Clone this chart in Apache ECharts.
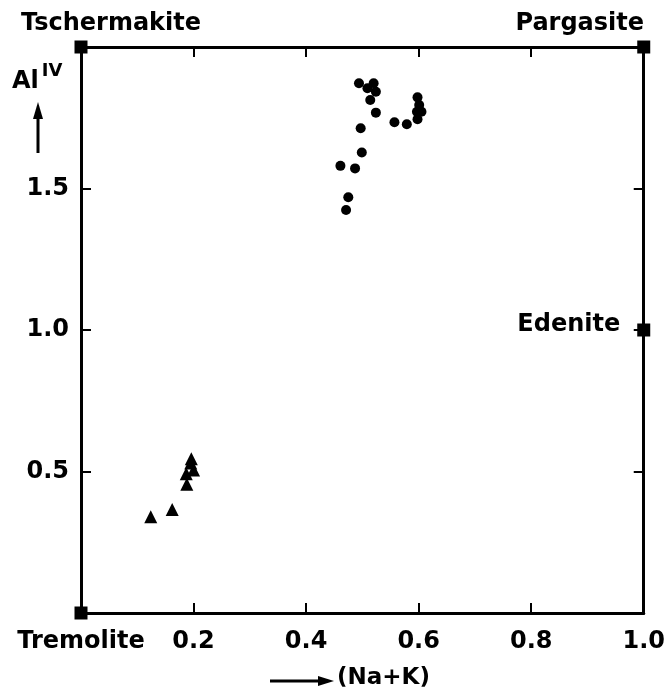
<!DOCTYPE html>
<html>
<head>
<meta charset="utf-8">
<script src="https://cdn.jsdelivr.net/npm/echarts@6/dist/echarts.min.js"></script>
<style>
  html, body { margin: 0; padding: 0; background: #fff; }
  #chart { width: 668px; height: 695px; }
</style>
</head>
<body>
<div id="chart"></div>
<script>
// end members (corners of the diagram)
const endNames = ["Tremolite", "Tschermakite", "Pargasite", "Edenite"];
const endX = [0, 0, 1.0, 1.0];
const endY = [0, 2.0, 2.0, 1.0];

// circles
const circleX = [0.494, 0.509, 0.520, 0.524, 0.514, 0.524, 0.497, 0.557, 0.579, 0.598,
  0.601, 0.597, 0.605, 0.598, 0.499, 0.461, 0.487, 0.475, 0.471];
const circleY = [1.872, 1.854, 1.872, 1.842, 1.813, 1.768, 1.713, 1.734, 1.727, 1.822,
  1.795, 1.771, 1.771, 1.745, 1.627, 1.580, 1.571, 1.469, 1.424];

// triangles
const triX = [0.124, 0.162, 0.188, 0.187, 0.200, 0.195, 0.196];
const triY = [0.340, 0.366, 0.455, 0.492, 0.505, 0.530, 0.545];

const xTicks = [0, 0.2, 0.4, 0.6, 0.8, 1.0];
const yTicks = [0, 0.5, 1.0, 1.5, 2.0];

const FONT = "DejaVu Sans";
const black = "#000";

let chart = echarts.init(document.getElementById("chart"), null, { renderer: "canvas" });

const zip = (xs, ys) => xs.map((x, i) => [x, ys[i]]);

// label placement of end members
const endLabels = {
  Tremolite: { show: false },
  Tschermakite: { show: true, position: "top", offset: [30, 0] },
  Pargasite: { show: true, position: "top", offset: [-64, 0] },
  Edenite: { show: true, position: "left", distance: 17, offset: [0, -5] },
};

const axisCommon = {
  type: "value",
  axisLine: { show: true, onZero: false, lineStyle: { color: black, width: 3 } },
  axisTick: { show: true, inside: true, length: 10, lineStyle: { color: black, width: 2 } },
  splitLine: { show: false },
};

const textStyle = { color: black, fontFamily: FONT, fontSize: 24, fontWeight: "bold" };

chart.setOption({
  backgroundColor: "#fff",
  animation: false,
  grid: { left: 81, right: 16, top: 47, bottom: 82 },
  xAxis: [
    Object.assign({}, axisCommon, {
      position: "bottom",
      min: xTicks[0], max: xTicks[xTicks.length - 1], interval: 0.2,
      axisLabel: Object.assign({
        margin: 17,
        formatter: (v) => (v === 0 ? endNames[0] : v.toFixed(1)),
      }, textStyle),
    }),
    Object.assign({}, axisCommon, {
      position: "top",
      min: xTicks[0], max: xTicks[xTicks.length - 1], interval: 0.2,
      axisLabel: { show: false },
    }),
  ],
  yAxis: [
    Object.assign({}, axisCommon, {
      position: "left",
      min: yTicks[0], max: yTicks[yTicks.length - 1], interval: 0.5,
      axisLabel: Object.assign({
        margin: 12,
        formatter: (v) => (v === 0 || v === 2 ? "" : v.toFixed(1)),
      }, textStyle),
    }),
    Object.assign({}, axisCommon, {
      position: "right",
      min: yTicks[0], max: yTicks[yTicks.length - 1], interval: 0.5,
      axisLabel: { show: false },
    }),
  ],
  graphic: [
    // Al^IV with upward arrow
    {
      type: "text", left: 12, top: 62,
      style: {
        text: "{a|Al}{s|IV}",
        rich: {
          a: { fontFamily: FONT, fontSize: 24, fontWeight: "bold", fill: black, verticalAlign: "bottom", lineHeight: 32 },
          s: { fontFamily: FONT, fontSize: 18, fill: black, fontWeight: "bold", verticalAlign: "top", padding: [0, 0, 14, 3] },
        },
      },
    },
    { type: "line", shape: { x1: 38, y1: 153, x2: 38, y2: 116 }, style: { stroke: black, lineWidth: 3 } },
    { type: "polygon", shape: { points: [[38, 102], [33, 119], [43, 119]] }, style: { fill: black } },
    // (Na+K) with right arrow
    { type: "line", shape: { x1: 270, y1: 681, x2: 320, y2: 681 }, style: { stroke: black, lineWidth: 3 } },
    { type: "polygon", shape: { points: [[334, 681], [318, 676], [318, 686]] }, style: { fill: black } },
    {
      type: "text", left: 337, top: 667,
      style: { text: "(Na+K)", fontFamily: FONT, fontSize: 23, fontWeight: "bold", fill: black },
    },
  ],
  series: [
    {
      type: "scatter",
      symbol: "circle",
      symbolSize: 10,
      itemStyle: { color: black, opacity: 1 },
      data: zip(circleX, circleY),
    },
    {
      type: "scatter",
      symbol: "triangle",
      symbolSize: 13,
      itemStyle: { color: black, opacity: 1 },
      data: zip(triX, triY),
    },
    {
      type: "scatter",
      symbol: "rect",
      symbolSize: 13,
      z: 10,
      itemStyle: { color: black, opacity: 1 },
      label: Object.assign({ formatter: (p) => p.name }, textStyle),
      data: endNames.map((n, i) => ({
        name: n,
        value: [endX[i], endY[i]],
        label: endLabels[n],
      })),
    },
  ],
});

window.onresize = chart.resize;
</script>
</body>
</html>
